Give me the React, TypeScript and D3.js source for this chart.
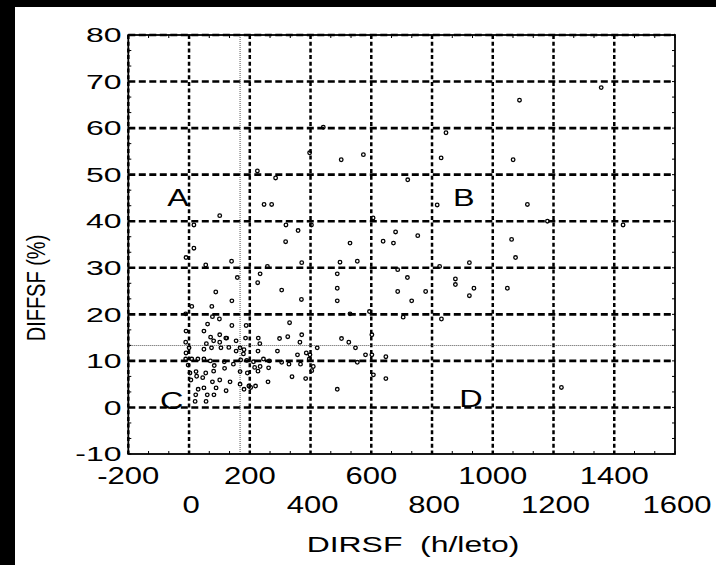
import React from "react";
import * as d3 from "d3";

// DIRSF (h/leto) vs DIFFSF (%)
const dirsf = [
  225, 285, 397, 442, 501, 247, 272, 101,
  16, 319, 403, 359, 318, 16, -10, 55, 140, 258, 371, 234, 159, 226, 88, 305, 488, 497, 488, 530,
  9, 75, 141, 370, 488, -11, 530, 77, 100, 61, 141, 188, 331, -10, 49,
  101, 71, 124, 228, 298, 325, 371, 502, -11, 57, 81, 101, 121, 155, 186, 233, 365, 526,
  0, 49, 74, 105, 131, 168, 181, 422, -10, 155, 227, 291, 179, 357, 386, 398,
  -11, 9, 29, 49, 70, 116, 146, 170, 190, 212, 245, 264, 305, 329, 367, 396, 409,
  -3, 83, 117, 216, 234, 262, 404, 3, 23, 55, 81, 168, 192, 227,
  25, 45, 6, 77, 101, 135, 168, 197, 219, 260, 339, 384,
  30, 49, 89, 122, 181, 203, 488, 22, 60, 82, 20, 56,
  1357, 1088, 846, 574, 830, 1067, 720, 817, 1114, 606,
  1180, 1429, 639, 680, 673, 753, 1062, 554, 1075, 687, 825, 923, 719, 877, 877, 687, 779, 938, 923, 1048,
  733, 594, 705, 831, 602, 548, 581, 602, 648, 554, 607, 648, 1226,
];
const diffsf = [
  50.8, 49.3, 54.7, 60.2, 53.2, 43.6, 43.6, 41.2,
  39.2, 39.2, 39.2, 38.0, 35.6, 34.2, 32.2, 30.6, 31.4, 30.3, 31.1, 28.7, 27.9, 26.8, 24.8, 25.2, 28.7, 31.2, 25.6, 35.3,
  21.7, 21.7, 22.9, 23.2, 22.9, 20.1, 20.1, 19.5, 19.0, 17.9, 17.6, 17.6, 18.2, 16.4, 16.4,
  15.6, 15.1, 14.9, 14.9, 14.8, 15.2, 15.6, 14.8, 14.0, 13.7, 14.3, 14.0, 14.9, 14.3, 14.9, 13.7, 14.0, 14.0,
  12.8, 12.5, 12.8, 12.8, 12.9, 12.8, 12.4, 12.8, 11.7, 12.1, 12.1, 12.1, 11.5, 11.3, 11.7, 11.3,
  10.4, 10.4, 10.4, 10.4, 10.0, 9.8, 9.3, 10.2, 10.1, 9.8, 10.4, 10.0, 9.7, 9.3, 9.3, 10.4, 8.8,
  9.1, 9.0, 8.4, 8.6, 8.8, 8.5, 7.9, 7.4, 7.7, 7.4, 7.8, 7.7, 7.4, 7.8,
  6.7, 6.4, 5.9, 5.5, 5.9, 5.5, 5.0, 4.6, 4.6, 5.5, 6.6, 6.2,
  3.9, 4.2, 4.2, 3.6, 3.9, 4.3, 3.9, 2.7, 2.7, 2.7, 1.3, 1.3,
  68.7, 66.0, 59.0, 54.3, 53.6, 53.2, 48.9, 43.5, 43.6, 40.7,
  40.0, 39.2, 35.7, 37.7, 35.3, 36.9, 36.1, 31.4, 32.2, 29.6, 30.3, 31.1, 27.9, 27.6, 26.4, 24.9, 24.9, 25.6, 24.0, 25.6,
  22.9, 20.6, 19.4, 19.0, 15.6, 12.8, 11.3, 11.3, 10.9, 9.7, 7.0, 6.2, 4.3,
];

const xTicksTop = [-200, 200, 600, 1000, 1400];
const xTicksBottom = [0, 400, 800, 1200, 1600];
const xGrid = [-200, 0, 200, 400, 600, 800, 1000, 1200, 1400];
const yTicks = [-10, 0, 10, 20, 30, 40, 50, 60, 70, 80];
const yGrid = [0, 10, 20, 30, 40, 50, 60, 70, 80];

// mean lines
const meanX = 168;
const meanY = 13.3;

const quadrants = [
  { label: "A", x: -36, y: 43.3 },
  { label: "B", x: 905, y: 43.3 },
  { label: "C", x: -57, y: -0.3 },
  { label: "D", x: 928, y: 0.1 },
];

const W = 716;
const H = 565;
const left = 128.3, right = 675, top = 35, bottom = 454;
const font = "'Liberation Sans', Arial, sans-serif";

export default function App() {
  const x = d3.scaleLinear().domain([-200, 1600]).range([left, right]);
  const y = d3.scaleLinear().domain([-10, 80]).range([bottom, top]);

  const minorX = d3.range(-200, 1600.1, 200 / 3);
  const minorY = d3.range(-10, 80.1, 10 / 3);

  return (
    <div style={{ position: "fixed", left: 0, top: 0 }}>
      <svg width={W} height={H} style={{ display: "block", background: "#fff" }}>
        <rect x={0} y={0} width={W} height={7} fill="#000" />
        <rect x={0} y={0} width={15} height={H} fill="#000" />

        {/* grid */}
        {yGrid.map(v => (
          <line key={"hy" + v} x1={left} x2={right} y1={y(v)} y2={y(v)}
            stroke="#000" strokeWidth={2.6} strokeDasharray="7,3.5" />
        ))}
        {xGrid.map(v => (
          <line key={"vx" + v} x1={x(v)} x2={x(v)} y1={top} y2={bottom}
            stroke="#000" strokeWidth={2.5} strokeDasharray="4,2.7" />
        ))}

        {/* mean lines */}
        <line x1={x(meanX)} x2={x(meanX)} y1={top} y2={bottom} stroke="#555" strokeWidth={1} strokeDasharray="1,1" />
        <line x1={left} x2={right} y1={y(meanY)} y2={y(meanY)} stroke="#555" strokeWidth={1} strokeDasharray="1,1" />

        {/* frame + minor ticks */}
        <rect x={left} y={top} width={right - left} height={bottom - top} fill="none" stroke="#000" strokeWidth={1.8} />
        {minorX.map((v, i) => (
          <g key={"mx" + i}>
            <line x1={x(v)} x2={x(v)} y1={bottom} y2={bottom - 3} stroke="#000" strokeWidth={1} />
            <line x1={x(v)} x2={x(v)} y1={top} y2={top + 3} stroke="#000" strokeWidth={1} />
          </g>
        ))}
        {minorY.map((v, i) => (
          <g key={"my" + i}>
            <line x1={left} x2={left + 3} y1={y(v)} y2={y(v)} stroke="#000" strokeWidth={1} />
            <line x1={right} x2={right - 3} y1={y(v)} y2={y(v)} stroke="#000" strokeWidth={1} />
          </g>
        ))}

        {/* points */}
        {dirsf.map((d, i) => (
          <circle key={"p" + i} cx={x(d)} cy={y(diffsf[i])} r={1.8}
            fill="none" stroke="#000" strokeWidth={1.3} />
        ))}

        {/* quadrant labels */}
        {quadrants.map(q => (
          <text key={q.label} transform={`translate(${x(q.x)},${y(q.y)}) scale(1.35,1)`}
            textAnchor="middle" fontFamily={font} fontSize={24} fill="#000">{q.label}</text>
        ))}

        {/* y tick labels */}
        {yTicks.map(v => (
          <text key={"yt" + v} transform={`translate(121.5,${y(v)}) scale(1.6,1)`}
            dy="0.36em" textAnchor="end" fontFamily={font} fontSize={20} fill="#000">{v}</text>
        ))}

        {/* x tick labels, staggered */}
        {xTicksTop.map(v => (
          <text key={"xt" + v} transform={`translate(${x(v)},484) scale(1.35,1)`}
            textAnchor="middle" fontFamily={font} fontSize={23} fill="#000">{v}</text>
        ))}
        {xTicksBottom.map(v => (
          <text key={"xb" + v} transform={`translate(${x(v) + 2},513) scale(1.35,1)`}
            textAnchor="middle" fontFamily={font} fontSize={23} fill="#000">{v}</text>
        ))}

        {/* axis titles */}
        <text transform="translate(413,552) scale(1.45,1)" textAnchor="middle"
          fontFamily={font} fontSize={22} fill="#000" style={{ whiteSpace: "pre" }}>DIRSF  (h/leto)</text>
        <text transform="translate(45,288) scale(1.3,1) rotate(-90)" textAnchor="middle"
          fontFamily={font} fontSize={20} fill="#000">DIFFSF (%)</text>
      </svg>
    </div>
  );
}
